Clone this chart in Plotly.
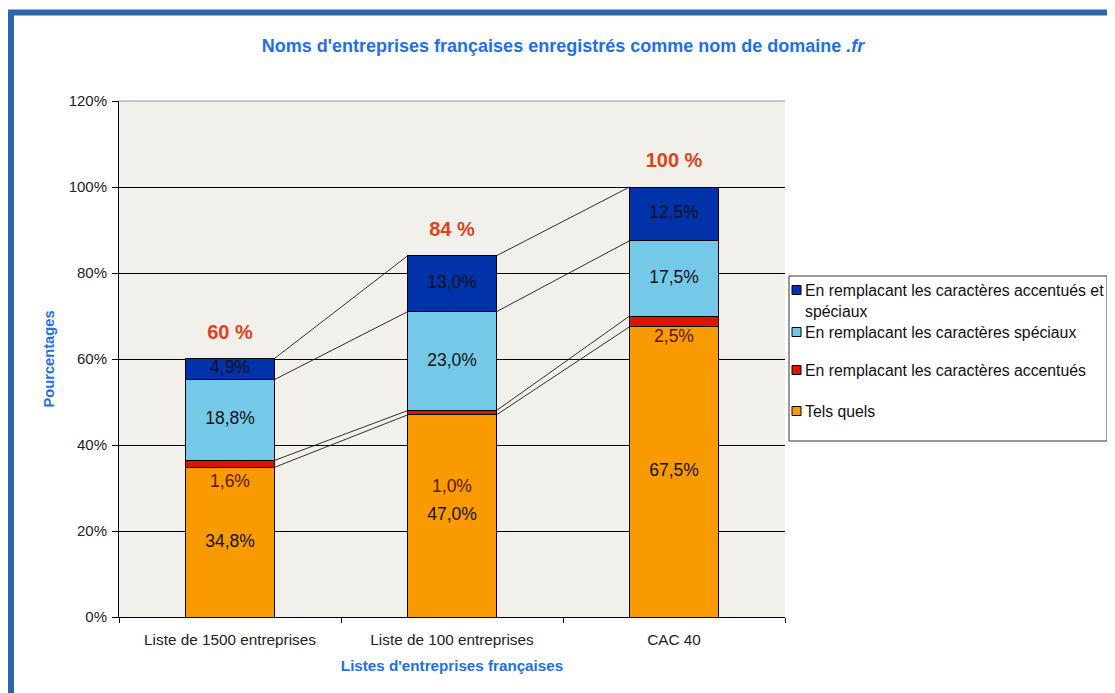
import plotly.graph_objects as go

# ---------------- data ----------------
categories = ["Liste de 1500 entreprises", "Liste de 100 entreprises", "CAC 40"]
tels_quels = [34.8, 47.0, 67.5]
accentues = [1.6, 1.0, 2.5]
speciaux = [18.8, 23.0, 17.5]
accentues_et_speciaux = [4.9, 13.0, 12.5]
y_tick_values = [0, 20, 40, 60, 80, 100, 120]
y_tick_labels = ["0%", "20%", "40%", "60%", "80%", "100%", "120%"]

series_names = [
    "Tels quels",
    "En remplacant les caractères accentués",
    "En remplacant les caractères spéciaux",
    "En remplacant les caractères accentués et spéciaux",
]
series_values = [tels_quels, accentues, speciaux, accentues_et_speciaux]

# ---------------- style ----------------
colors = ["#F89A00", "#DD1500", "#74C9E8", "#0033AA"]
FONT = "Liberation Sans, Arial, sans-serif"
BLUE_TEXT = "#1F6FE8"
BAR_W = 0.4
red_label_y = [31.2, 30.2, 64.9]   # where the small red labels were placed
total_offset = 5.8

OFF = 8                      # page body margin
W, H = 1115 - OFF, 693 - OFF  # figure size
# plot area in (screen) pixels
PL, PR, PT, PB = 119, 785, 101, 617


def px_x(px):
    return (px - PL) / (PR - PL)


def px_y(py):
    return (PB - py) / (PB - PT)


def fr(v):
    return f"{v:.1f}".replace(".", ",") + "%"


fig = go.Figure()

# stacked bars
for name, vals, col in zip(series_names, series_values, colors):
    fig.add_trace(go.Bar(
        x=categories, y=vals, name=name, width=BAR_W,
        marker=dict(color=col, line=dict(color="black", width=1)),
        showlegend=False, hoverinfo="y+name",
    ))

# cumulative levels
n = len(categories)
cum = []
running = [0.0] * n
for vals in series_values:
    running = [r + v for r, v in zip(running, vals)]
    cum.append(running[:])
totals = cum[-1]

# connector lines between bars (series lines)
lx, ly = [], []
for i in range(n - 1):
    for level in cum:
        lx += [i + BAR_W / 2, i + 1 - BAR_W / 2, None]
        ly += [level[i], level[i + 1], None]
fig.add_trace(go.Scatter(
    x=lx, y=ly, xaxis="x2", mode="lines",
    line=dict(color="#1a1a1a", width=0.9), showlegend=False, hoverinfo="skip",
))

# segment labels
bottoms = [[0.0] * n] + cum[:-1]
for s, vals in enumerate(series_values):
    if s == 1:
        ys = red_label_y
        tcol = "#5A1600"
    else:
        ys = [b + v / 2 for b, v in zip(bottoms[s], vals)]
        tcol = "#111111"
    fig.add_trace(go.Scatter(
        x=list(range(n)), y=ys, xaxis="x2", mode="text",
        text=[fr(v) for v in vals], textposition="middle center",
        textfont=dict(family=FONT, size=17.5, color=tcol),
        showlegend=False, hoverinfo="skip",
    ))

# totals above bars
fig.add_trace(go.Scatter(
    x=list(range(n)), y=[t + total_offset for t in totals], xaxis="x2",
    mode="text", text=[f"{round(t)} %" for t in totals],
    textposition="middle center",
    textfont=dict(family=FONT, size=20, color="#E0421C", weight="bold"),
    showlegend=False, hoverinfo="skip",
))

# ---------------- manual legend ----------------
shapes = []
annotations = []
shapes.append(dict(type="rect", xref="paper", yref="paper",
                   x0=px_x(789), x1=px_x(1107), y0=px_y(441), y1=px_y(276),
                   line=dict(color="#333333", width=1), fillcolor="white",
                   layer="below"))
legend_order = [3, 2, 1, 0]
legend_text = [
    "En remplacant les caractères accentués et<br>spéciaux",
    "En remplacant les caractères spéciaux",
    "En remplacant les caractères accentués",
    "Tels quels",
]
legend_cy = [290, 332, 370, 411]
for k, s in enumerate(legend_order):
    cy = legend_cy[k]
    shapes.append(dict(type="rect", xref="paper", yref="paper",
                       x0=px_x(792), x1=px_x(801), y0=px_y(cy + 4.5), y1=px_y(cy - 4.5),
                       line=dict(color="black", width=1), fillcolor=colors[s]))
    annotations.append(dict(
        xref="paper", yref="paper", x=px_x(803), y=px_y(cy - 10),
        xanchor="left", yanchor="top", align="left", showarrow=False,
        text=legend_text[k],
        font=dict(family=FONT, size=15.8, color="#111111"),
    ))

# top edge of plot area (light grey)
shapes.append(dict(type="line", xref="paper", yref="paper",
                   x0=0, x1=1, y0=1, y1=1,
                   line=dict(color="#8C9A98", width=1), layer="above"))

# blue frame (left and top edges)
shapes.append(dict(type="path", xref="paper", yref="paper",
                   path=f"M {px_x(11)},{px_y(720)} L {px_x(11)},{px_y(12.5)} L {px_x(1130)},{px_y(12.5)}",
                   line=dict(color="#2B67AA", width=6), layer="above"))

fig.update_layout(
    width=W, height=H,
    margin=dict(l=PL - OFF, r=W - (PR - OFF), t=PT - OFF, b=H - (PB - OFF), autoexpand=False),
    paper_bgcolor="white",
    plot_bgcolor="#F1F0EA",
    barmode="stack",
    showlegend=False,
    font=dict(family=FONT, color="#222222"),
    title=dict(
        text="Noms d'entreprises françaises enregistrés comme nom de domaine <i>.fr</i>",
        x=(563 - OFF) / W, y=1 - (46 - OFF) / H, xref="container", yref="container",
        xanchor="center", yanchor="middle",
        font=dict(family=FONT, size=18, color=BLUE_TEXT, weight="bold"),
    ),
    xaxis=dict(
        type="category", range=[-0.5, n - 0.5],
        showline=True, linecolor="black", linewidth=1,
        ticks="outside", ticklen=5, tickcolor="black", tickson="boundaries",
        ticklabelstandoff=9,
        showgrid=False,
        tickfont=dict(family=FONT, size=15.3, color="#222222"),
        title=dict(text="Listes d'entreprises françaises", standoff=12,
                   font=dict(family=FONT, size=15.2, color=BLUE_TEXT, weight="bold")),
    ),
    xaxis2=dict(overlaying="x", range=[-0.5, n - 0.5], visible=False, anchor="y"),
    yaxis=dict(
        range=[0, 120], tickmode="array", tickvals=y_tick_values, ticktext=y_tick_labels,
        showline=True, linecolor="black", linewidth=1,
        ticks="outside", ticklen=6, tickcolor="black", ticklabelstandoff=2,
        showgrid=True, gridcolor="black", gridwidth=1, zeroline=False,
        tickfont=dict(family=FONT, size=15, color="#222222"),
        title=dict(text="Pourcentages", standoff=10,
                   font=dict(family=FONT, size=14.7, color=BLUE_TEXT, weight="bold")),
    ),
    shapes=shapes,
    annotations=annotations,
)

fig.write_html("out.html")
